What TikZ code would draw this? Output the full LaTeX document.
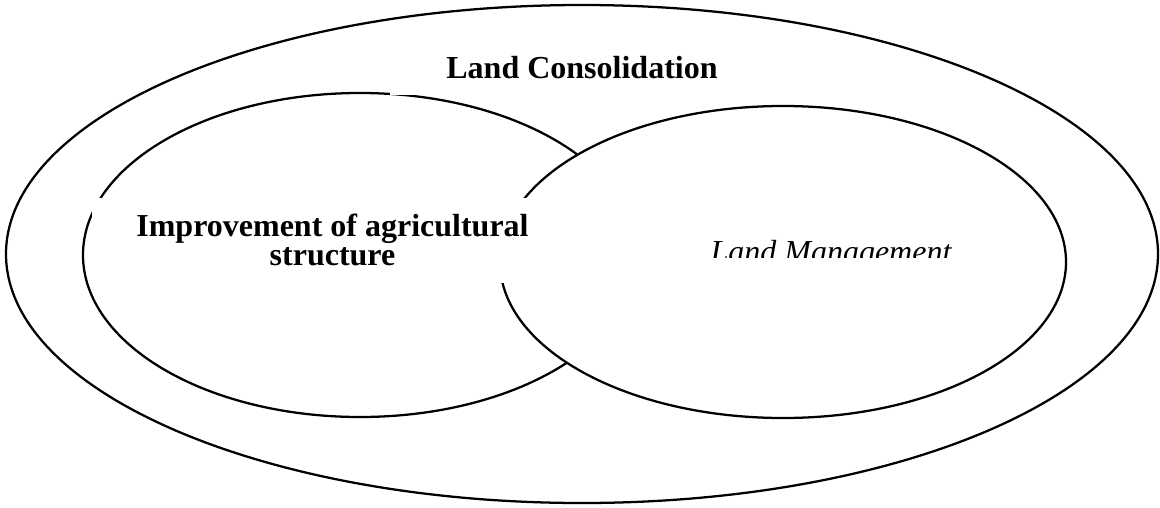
\documentclass[tikz,border=0pt]{standalone}
\usepackage{fontspec}
\setmainfont{Liberation Serif}
\usetikzlibrary{shapes.geometric}
\begin{document}
\begin{tikzpicture}[x=0.75pt,y=-0.75pt,
  ring/.style={ellipse, draw=black, line width=1.7pt, fill=white, inner sep=0pt},
  boldlbl/.style={font=\fontsize{24}{21.5}\selectfont\bfseries, inner sep=0pt, align=center},
  itlbl/.style={font=\fontsize{24}{21}\selectfont\itshape, inner sep=0pt}
]
\useasboundingbox (0,0) rectangle (1160,507);
\node[ring, minimum width=864pt, minimum height=373.5pt] (outer) at (582,254) {};
\node[ring, minimum width=415.5pt, minimum height=243pt] (left) at (360,255) {};
\node[ring, minimum width=424.5pt, minimum height=234pt] (right) at (783,262) {};
\fill[white] (390,45) rectangle (775,95);
\node[boldlbl, anchor=base] (lc) at (582,78) {Land Consolidation};
\fill[white] (92,198) rectangle (535,283);
\node[boldlbl, anchor=center] (ias) at (332.5,240) {Improvement of agricultural\\structure};
\begin{scope}
\clip (650,220) rectangle (1000,257);
\node[itlbl, anchor=base] (lm) at (831,262) {Land Management};
\end{scope}
\end{tikzpicture}
\end{document}
